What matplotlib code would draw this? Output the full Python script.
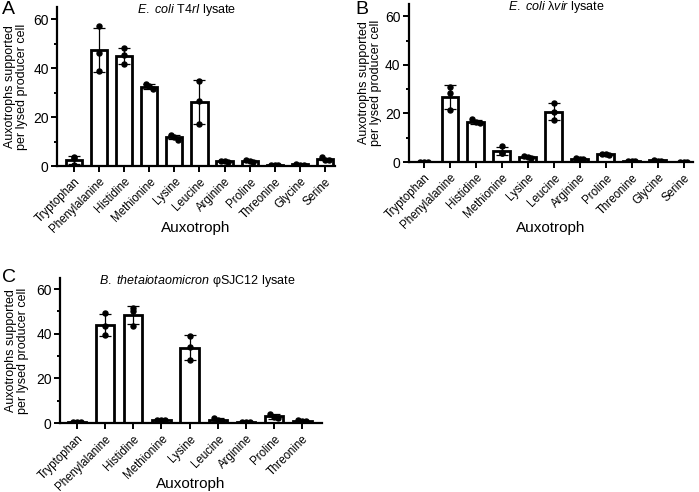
import numpy as np
import matplotlib
matplotlib.use("Agg")
import matplotlib.pyplot as plt
from matplotlib.ticker import MultipleLocator

plt.rcParams['font.family'] = ['Liberation Sans', 'DejaVu Sans']
plt.rcParams['mathtext.fontset'] = 'custom'
plt.rcParams['mathtext.rm'] = 'Liberation Sans'
plt.rcParams['mathtext.it'] = 'Liberation Sans:italic'

# Data: three replicate measurements per auxotroph
aux_ab = ['Tryptophan', 'Phenylalanine', 'Histidine', 'Methionine', 'Lysine',
          'Leucine', 'Arginine', 'Proline', 'Threonine', 'Glycine', 'Serine']
aux_c = ['Tryptophan', 'Phenylalanine', 'Histidine', 'Methionine', 'Lysine',
         'Leucine', 'Arginine', 'Proline', 'Threonine']

# A: E. coli T4rI lysate
reps_a = [[3.6, 3.4, 0.5], [57.1, 46.2, 39.0], [48.4, 45.2, 41.8],
          [33.5, 32.6, 31.4], [12.6, 12.0, 10.8], [34.7, 26.7, 17.1],
          [2.2, 2.0, 1.8], [2.5, 2.0, 1.5], [0.3, 0.3, 0.3],
          [1.0, 0.5, 0.6], [3.5, 2.5, 2.5]]
# B: E. coli lambda vir lysate
reps_b = [[0.2, 0.2, 0.2], [30.8, 28.6, 21.4], [17.5, 16.4, 15.9],
          [6.5, 3.7, 3.6], [2.4, 2.2, 1.8], [24.2, 20.4, 17.2],
          [1.5, 1.3, 1.4], [3.4, 3.2, 3.0], [0.3, 0.3, 0.3],
          [1.0, 0.5, 0.4], [0.2, 0.2, 0.2]]
# C: B. thetaiotaomicron phiSJC12 lysate
reps_c = [[0.3, 0.3, 0.3], [49.3, 43.3, 39.6], [51.6, 50.0, 43.7],
          [1.6, 1.6, 1.6], [39.1, 34.3, 28.1], [2.4, 1.2, 0.8],
          [0.6, 0.6, 0.6], [4.2, 2.7, 2.2], [1.3, 0.9, 0.8]]

title_a = r'$\mathit{E.\ coli}$ T4$\mathit{rI}$ lysate'
title_b = r'$\mathit{E.\ coli}$ λ$\mathit{vir}$ lysate'
title_c = r'$\mathit{B.\ thetaiotaomicron}$ φSJC12 lysate'

fig = plt.figure(figsize=(6.99, 4.92), dpi=100)


def draw_panel(rect, names, reps, title, title_x, xlim, ylab_x, xlab_y):
    ax = fig.add_axes(rect)
    x = np.arange(len(names))
    means = np.array([np.mean(r) for r in reps])
    sds = np.array([np.std(r, ddof=1) for r in reps])
    ax.bar(x, means, width=0.65, color='white', edgecolor='black',
           linewidth=2.0, zorder=2)
    ax.errorbar(x, means, yerr=sds, fmt='none', ecolor='black',
                elinewidth=0.9, capsize=4, capthick=0.9, zorder=3)
    for xi, r in zip(x, reps):
        # spread overlapping points sideways like a scatter-dot plot
        if max(r) - min(r) < 2.5:
            offs = np.array([-0.14, 0.0, 0.14])
        else:
            offs = np.zeros(len(r))
        ax.plot(xi + offs, r, 'o', color='black', markersize=3.6,
                zorder=4)
    ax.set_xlim(*xlim)
    ax.set_ylim(0, 65)
    ax.set_yticks([0, 20, 40, 60])
    ax.yaxis.set_minor_locator(MultipleLocator(10))
    ax.set_xticks(x)
    ax.set_xticklabels(names, rotation=45, ha='right',
                       rotation_mode='anchor', fontsize=8.3)
    ax.tick_params(axis='y', labelsize=10, width=1.4, length=4, pad=2)
    ax.tick_params(axis='y', which='minor', width=1.4, length=2.5)
    ax.tick_params(axis='x', width=1.4, length=4, pad=3)
    for s in ['top', 'right']:
        ax.spines[s].set_visible(False)
    for s in ['left', 'bottom']:
        ax.spines[s].set_linewidth(1.6)
    ax.set_xlabel('Auxotroph', fontsize=11, va='center')
    ax.xaxis.set_label_coords(0.5, xlab_y)
    ax.set_ylabel('Auxotrophs supported\nper lysed producer cell',
                  fontsize=9, linespacing=1.05, va='center')
    ax.yaxis.set_label_coords(ylab_x, 0.5)
    ax.text(title_x, 0.98, title, transform=ax.transAxes, ha='center',
            va='center', fontsize=9)
    return ax


draw_panel([0.0815, 0.6626, 0.398, 0.323], aux_ab, reps_a, title_a, 0.465,
           (-0.67, 10.4), -0.147, -0.39)
draw_panel([0.585, 0.6707, 0.406, 0.321], aux_ab, reps_b, title_b, 0.518,
           (-0.58, 10.35), -0.137, -0.42)
draw_panel([0.0858, 0.140, 0.375, 0.295], aux_c, reps_c, title_c, 0.523,
           (-0.6, 8.7), -0.164, -0.42)

# panel letters
for letter, px, py in [('A', 2, 9), ('B', 355, 9), ('C', 2, 277)]:
    fig.text(px / 699, 1 - py / 492, letter, ha='left', va='center',
             fontsize=14)

fig.savefig('out.png', dpi=100)
